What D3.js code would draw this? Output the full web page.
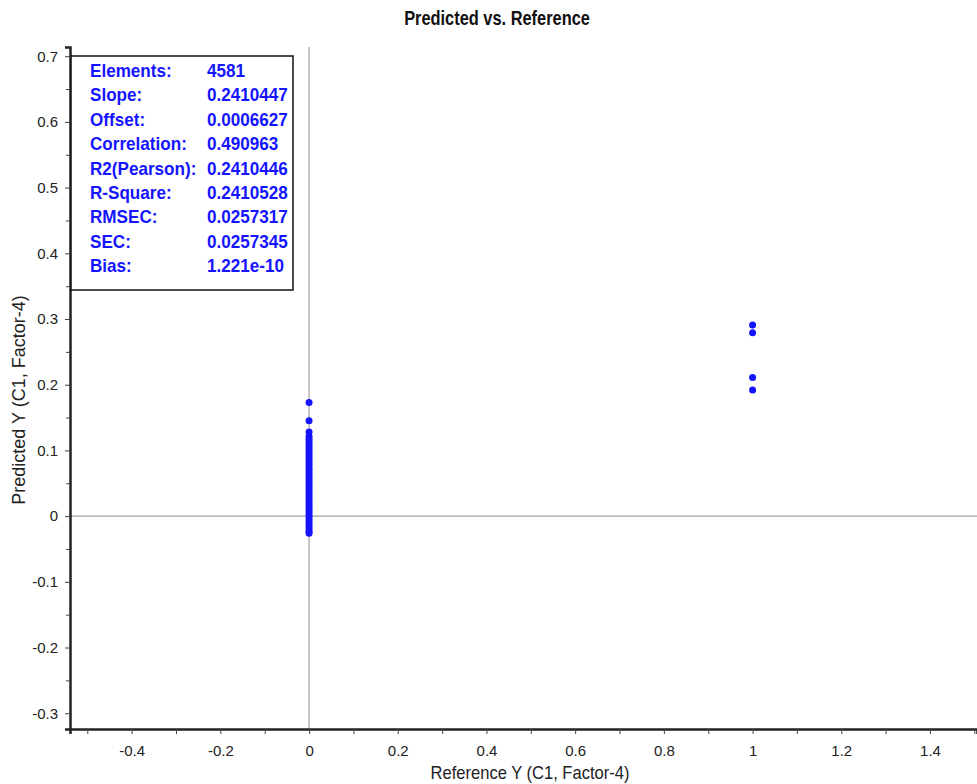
<!DOCTYPE html>
<html>
<head>
<meta charset="utf-8">
<script src="https://cdn.jsdelivr.net/npm/d3@7"></script>
<style>
  body { margin: 0; background: #fff; }
  svg { display: block; font-family: "Liberation Sans", Arial, sans-serif; }
</style>
</head>
<body>
<svg id="chart" width="977" height="784"></svg>
<script>
// ── Data ────────────────────────────────────────────────────────────────────
// Reference = 0 (dense column) and Reference = 1 (four positives)
const REF0_PRED = [0.173, 0.145, 0.128, 0.121, 0.117, 0.113, 0.109, 0.105, 0.101, 0.097,
  0.093, 0.089, 0.085, 0.081, 0.077, 0.073, 0.069, 0.065, 0.061, 0.057, 0.053, 0.049,
  0.045, 0.041, 0.037, 0.033, 0.029, 0.025, 0.021, 0.017, 0.013, 0.009, 0.005, 0.001,
  -0.003, -0.007, -0.011, -0.015, -0.019, -0.023, -0.026];
const REF1_PRED = [0.291, 0.279, 0.211, 0.192];

const STAT_LABELS = ["Elements:", "Slope:", "Offset:", "Correlation:", "R2(Pearson):",
  "R-Square:", "RMSEC:", "SEC:", "Bias:"];
const STAT_VALUES = ["4581", "0.2410447", "0.0006627", "0.490963", "0.2410446",
  "0.2410528", "0.0257317", "0.0257345", "1.221e-10"];

const X_TICKS = [-0.4, -0.2, 0, 0.2, 0.4, 0.6, 0.8, 1, 1.2, 1.4];
const Y_TICKS = [-0.3, -0.2, -0.1, 0, 0.1, 0.2, 0.3, 0.4, 0.5, 0.6, 0.7];
const X_MINOR = [-0.5, -0.3, -0.1, 0.1, 0.3, 0.5, 0.7, 0.9, 1.1, 1.3, 1.5];
const Y_MINOR = [-0.25, -0.15, -0.05, 0.05, 0.15, 0.25, 0.35, 0.45, 0.55, 0.65];

// ── Layout ──────────────────────────────────────────────────────────────────
const M = { top: 47, right: 0, bottom: 55, left: 70 };
const VW = 977, VH = 784;
const W = VW - M.left - M.right;
const H = VH - M.top - M.bottom;

const svg = d3.select("#chart");
const g = svg.append("g").attr("transform", `translate(${M.left},${M.top})`);

const x = d3.scaleLinear().domain([-0.539, 1.506]).range([0, W]);
const y = d3.scaleLinear().domain([-0.324, 0.714]).range([H, 0]);

const BLUE = "#1414ff";

// condensed text helper (no narrow font installed)
function narrowText(parent, tx, ty, sx, str) {
  return parent.append("text")
    .attr("transform", `translate(${tx},${ty}) scale(${sx},1)`)
    .text(str);
}

// zero lines
g.append("line").attr("x1", x(0)).attr("x2", x(0)).attr("y1", 0).attr("y2", H)
  .attr("stroke", "#8c8c8c").attr("stroke-width", 1);
g.append("line").attr("x1", 0).attr("x2", W).attr("y1", y(0)).attr("y2", y(0))
  .attr("stroke", "#8c8c8c").attr("stroke-width", 1);

// points
const pts = REF0_PRED.map(v => ({ rx: 0, py: v })).concat(REF1_PRED.map(v => ({ rx: 1, py: v })));
g.selectAll("circle.pt").data(pts).join("circle")
  .attr("class", "pt")
  .attr("cx", d => x(d.rx)).attr("cy", d => y(d.py))
  .attr("r", 3.5).attr("fill", BLUE);

// axes
const xAxis = g.append("g").attr("transform", `translate(0,${H})`)
  .call(d3.axisBottom(x).tickValues(X_TICKS).tickSize(5).tickFormat(d3.format("")));
const yAxis = g.append("g")
  .call(d3.axisLeft(y).tickValues(Y_TICKS).tickSize(5).tickPadding(7).tickFormat(d3.format("")));

// minor ticks
g.append("g").attr("transform", `translate(0,${H})`)
  .call(d3.axisBottom(x).tickValues(X_MINOR).tickSize(5).tickFormat(""))
  .call(ax => ax.select(".domain").remove());
g.append("g")
  .call(d3.axisLeft(y).tickValues(Y_MINOR).tickSize(4).tickFormat(""))
  .call(ax => ax.select(".domain").remove());

[xAxis, yAxis].forEach(ax => {
  ax.select(".domain").attr("stroke", "#222").attr("stroke-width", 2.5);
  ax.selectAll(".tick text").attr("font-size", "15px").attr("fill", "#222")
    .attr("font-family", "Liberation Sans, Arial, sans-serif");
});
xAxis.selectAll(".tick text").attr("y", 16);
svg.selectAll(".tick line").attr("stroke", "#444");
// unicode minus → hyphen like the original
svg.selectAll(".tick text").text(function () { return this.textContent.replace("−", "-"); });

// title and axis labels
narrowText(svg, 497, 25, 0.82, "Predicted vs. Reference")
  .attr("text-anchor", "middle").attr("font-size", "20px").attr("font-weight", "bold")
  .attr("fill", "#111");
narrowText(svg, 530, 779, 0.92, "Reference Y (C1, Factor-4)")
  .attr("text-anchor", "middle").attr("font-size", "18px").attr("fill", "#222");
svg.append("text").attr("transform", "translate(25,400) rotate(-90)")
  .attr("text-anchor", "middle").attr("font-size", "18px").attr("fill", "#222")
  .text("Predicted Y (C1, Factor-4)");

// stats box
const box = svg.append("g").attr("transform", "translate(71,56)");
box.append("rect").attr("width", 222).attr("height", 234)
  .attr("fill", "#fff").attr("stroke", "#111").attr("stroke-width", 1.5);
STAT_LABELS.forEach((lab, i) => {
  const yy = 21 + i * 24.4;
  narrowText(box, 19, yy, 0.95, lab)
    .attr("font-size", "18px").attr("font-weight", "bold").attr("fill", BLUE);
  narrowText(box, 136, yy, 0.95, STAT_VALUES[i])
    .attr("font-size", "18px").attr("font-weight", "bold").attr("fill", BLUE);
});
</script>
</body>
</html>
